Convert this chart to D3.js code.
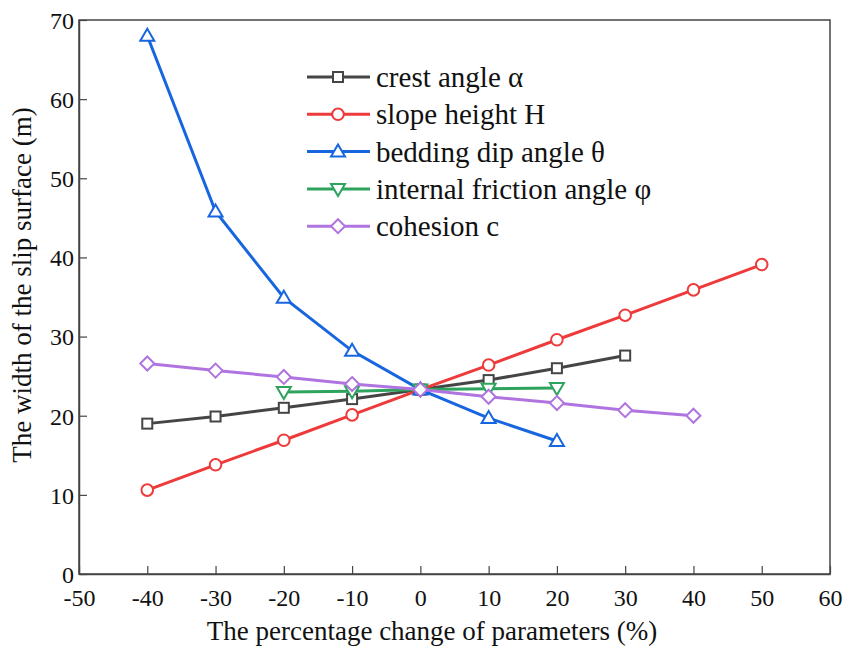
<!DOCTYPE html>
<html>
<head>
<meta charset="utf-8">
<script src="https://cdn.jsdelivr.net/npm/d3@7"></script>
<style>
  body { margin: 0; background: #fff; }
  svg text { font-family: "Liberation Serif", "Times New Roman", serif; fill: #111; }
</style>
</head>
<body>
<svg id="chart" width="846" height="648"></svg>
<script>
var xTicks = [-50, -40, -30, -20, -10, 0, 10, 20, 30, 40, 50, 60];
var yTicks = [0, 10, 20, 30, 40, 50, 60, 70];

var crestX = [-40, -30, -20, -10, 0, 10, 20, 30];
var crestY = [19.0, 19.9, 21.0, 22.1, 23.3, 24.5, 26.0, 27.6];

var heightX = [-40, -30, -20, -10, 0, 10, 20, 30, 40, 50];
var heightY = [10.6, 13.8, 16.9, 20.1, 23.3, 26.4, 29.6, 32.7, 35.9, 39.1];

var dipX = [-40, -30, -20, -10, 0, 10, 20];
var dipY = [68.0, 45.8, 34.9, 28.2, 23.3, 19.7, 16.8];

var frictionX = [-20, -10, 0, 10, 20];
var frictionY = [23.0, 23.1, 23.3, 23.4, 23.5];

var cohesionX = [-40, -30, -20, -10, 0, 10, 20, 30, 40];
var cohesionY = [26.6, 25.7, 24.9, 24.0, 23.3, 22.4, 21.6, 20.7, 20.0];

var seriesNames = ['crest angle \u03b1', 'slope height H', 'bedding dip angle \u03b8',
                   'internal friction angle \u03c6', 'cohesion c'];
var colors = ['#454545', '#ee3a3a', '#1766e0', '#2ea35e', '#b074e0'];
var shapes = ['square', 'circle', 'triangle', 'down', 'diamond'];

var series = [
    {xs: crestX, ys: crestY},
    {xs: heightX, ys: heightY},
    {xs: dipX, ys: dipY},
    {xs: frictionX, ys: frictionY},
    {xs: cohesionX, ys: cohesionY}
];

var margin = {left: 79, right: 16, top: 20, bottom: 74};
var svg = d3.select('#chart');
var W = +svg.attr('width'), H = +svg.attr('height');

var x = d3.scaleLinear().domain([-50, 60]).range([margin.left, W - margin.right]);
var y = d3.scaleLinear().domain([0, 70]).range([H - margin.bottom, margin.top]);

// frame
svg.append('rect')
    .attr('x', x(-50)).attr('y', y(70))
    .attr('width', x(60) - x(-50)).attr('height', y(0) - y(70))
    .attr('fill', 'none').attr('stroke', '#444').attr('stroke-width', 1.5);

var xAxis = svg.append('g')
    .attr('transform', `translate(0, ${y(0)})`)
    .call(d3.axisBottom(x).tickValues(xTicks).tickFormat(d => String(d))
        .tickSize(-8).tickPadding(15).tickSizeOuter(0));
var yAxis = svg.append('g')
    .attr('transform', `translate(${x(-50)}, 0)`)
    .call(d3.axisLeft(y).tickValues(yTicks).tickFormat(d => String(d))
        .tickSize(-8).tickPadding(5).tickSizeOuter(0));

[xAxis, yAxis].forEach(function(a) {
    a.select('.domain').attr('stroke', '#444').attr('stroke-width', 1.5);
    a.selectAll('.tick line').attr('stroke', '#444').attr('stroke-width', 1.2);
    a.selectAll('.tick text')
        .style('font-family', '"Liberation Serif", serif')
        .style('font-size', '24px').attr('fill', '#111');
});
xAxis.selectAll('.tick text').attr('dy', '0.71em');
yAxis.selectAll('.tick text').attr('dy', '0.35em');

svg.append('text')
    .attr('x', 432).attr('y', 640)
    .attr('text-anchor', 'middle')
    .style('font-size', '27px')
    .text('The percentage change of parameters (%)');

svg.append('text')
    .attr('transform', `translate(31, ${(y(0) + y(70)) / 2 - 12}) rotate(-90)`)
    .attr('text-anchor', 'middle')
    .style('font-size', '27px')
    .text('The width of the slip surface (m)');

function drawMarker(g, shape, color, cx, cy) {
    var m;
    if (shape === 'square') {
        m = g.append('rect').attr('x', cx - 5).attr('y', cy - 5).attr('width', 10).attr('height', 10);
    } else if (shape === 'circle') {
        m = g.append('circle').attr('cx', cx).attr('cy', cy).attr('r', 5.8);
    } else if (shape === 'triangle') {
        m = g.append('path').attr('d', `M${cx},${cy - 7}L${cx + 7},${cy + 5}L${cx - 7},${cy + 5}Z`);
    } else if (shape === 'down') {
        m = g.append('path').attr('d', `M${cx},${cy + 7}L${cx + 7},${cy - 5}L${cx - 7},${cy - 5}Z`);
    } else {
        m = g.append('path').attr('d', `M${cx},${cy - 7}L${cx + 7},${cy}L${cx},${cy + 7}L${cx - 7},${cy}Z`);
    }
    m.attr('fill', '#fff').attr('stroke', color).attr('stroke-width', 2);
}

var line = d3.line().x(d => x(d[0])).y(d => y(d[1]));

series.forEach(function(s, i) {
    var pts = s.xs.map((v, j) => [v, s.ys[j]]);
    var g = svg.append('g');
    g.append('path').attr('d', line(pts))
        .attr('fill', 'none').attr('stroke', colors[i]).attr('stroke-width', 3);
    pts.forEach(p => drawMarker(g, shapes[i], colors[i], x(p[0]), y(p[1])));
});

// legend
var legend = svg.append('g');
seriesNames.forEach(function(name, i) {
    var ly = 77 + i * 37.3;
    legend.append('line')
        .attr('x1', 307).attr('x2', 370).attr('y1', ly).attr('y2', ly)
        .attr('stroke', colors[i]).attr('stroke-width', 3);
    drawMarker(legend, shapes[i], colors[i], 338, ly);
    legend.append('text')
        .attr('x', 376).attr('y', ly).attr('dy', '0.35em')
        .style('font-size', '29px')
        .text(name);
});
</script>
</body>
</html>
